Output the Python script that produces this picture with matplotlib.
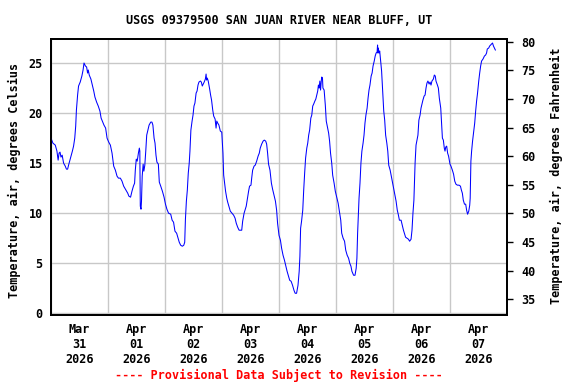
import matplotlib
matplotlib.use("Agg")
import matplotlib.pyplot as plt
import matplotlib.dates as mdates
from datetime import datetime, timedelta

# Hours since 2026-03-31 00:00 and air temperature (deg C)
hours = [
    0, 0.8, 1.8, 2.5, 3.0, 3.4, 3.8, 4.2, 4.7, 5.3, 6.0, 6.5, 7.0, 7.4, 8.1, 9.0, 9.5, 10.0,
    10.4, 10.7, 11.2, 11.6, 12.3, 13.0, 13.5, 13.9, 14.5, 15.0, 15.4, 15.7, 16.1, 16.8, 17.4,
    18.0, 18.5, 19.2, 19.9, 20.6, 21.1, 21.6, 22.3, 23.0, 23.6, 24.3, 25.0, 25.7, 26.4, 27.1,
    27.8, 28.4, 29.2, 29.9, 30.6, 31.6, 32.3, 32.8, 33.5, 34.1, 34.7, 35.2, 35.5, 35.9, 36.3,
    36.8, 37.2, 37.4, 37.6, 37.9, 38.1, 38.4, 38.8, 39.1, 39.5, 39.9, 40.3, 40.7, 41.3, 42.0,
    42.5, 42.9, 43.4, 43.8, 44.2, 44.6, 45.2, 45.6, 46.2, 46.9, 47.6, 48.2,
    48.8, 49.5, 50.4, 51.0, 51.6, 52.2, 52.9, 53.5, 54.0, 54.6, 55.3, 55.9, 56.3, 56.6, 57.0,
    57.4, 57.8, 58.2, 58.5, 58.9, 59.4, 59.8, 60.2, 60.6, 61.1, 61.5, 61.9, 62.3, 62.9, 63.3,
    63.7, 64.1, 64.5, 65.0, 65.3, 65.5, 65.8, 66.2, 66.8, 67.2, 67.6, 68.1, 68.5, 69.1, 69.5,
    69.8, 70.2, 70.7, 71.3, 71.9, 72.4, 72.7, 73.1, 73.5, 74.0, 74.4, 74.9, 75.5, 76.2, 76.9,
    77.5, 78.0, 78.6, 79.2, 79.7, 80.3, 80.7, 81.3, 81.7, 82.2, 82.8, 83.2, 83.6, 84.2, 84.5,
    84.9, 85.5, 86.0, 86.6, 87.2, 87.7, 88.1, 88.7, 89.3, 89.8, 90.4, 90.8, 91.2, 91.6, 92.2,
    92.8, 93.3, 93.9, 94.5, 95.0, 95.4,
    96.0, 96.6, 97.1, 97.7, 98.3, 98.8, 99.4, 100.0, 100.5, 101.1, 101.7, 102.3, 102.8, 103.4,
    104.0, 104.5, 104.8, 105.1, 105.5, 106.0, 106.4, 106.8, 107.2, 107.7, 108.1, 108.5, 108.9,
    109.4, 109.8, 110.2, 110.6, 111.1, 111.5, 111.9, 112.3, 112.6, 112.9, 113.2, 113.5, 113.8,
    114.0, 114.3, 114.5, 115.0, 115.5, 115.9, 116.5, 116.9, 117.3, 117.7, 118.2, 118.6, 119.2,
    119.7, 120.3, 120.9, 121.4, 122.0, 122.4, 123.0, 123.6, 124.1, 124.7, 125.3, 125.8, 126.3,
    126.7, 127.4, 128.0, 128.5, 128.8, 129.1, 129.4, 129.7, 130.1, 130.5, 130.9, 131.4, 131.8,
    132.2, 132.6, 133.1, 133.5, 133.9, 134.3, 134.8, 135.2, 135.6, 136.1, 136.5, 136.9, 137.3,
    137.5, 137.6, 137.8, 138.1, 138.4, 138.8, 139.2, 139.6, 140.1, 140.5, 140.9, 141.4, 141.8,
    142.2, 142.8, 143.2, 143.6,
    144.4, 144.8, 145.3, 145.8, 146.2, 146.7, 147.4, 147.9, 148.4, 148.8, 149.3, 149.9, 150.5,
    151.0, 151.6, 152.0, 152.4, 152.8, 153.3, 153.7, 154.1, 154.5, 154.9, 155.4, 155.8, 156.2,
    156.6, 157.1, 157.5, 157.9, 158.3, 158.7, 159.2, 159.6, 160.0, 160.4, 161.0, 161.4, 161.8,
    162.1, 162.7, 163.1, 163.5, 164.1, 164.5, 164.8, 165.2, 165.6, 165.9, 166.2, 166.6, 167.0,
    167.4, 168.0, 168.4, 169.0, 169.5, 170.0, 170.5, 171.1, 171.8, 172.4, 172.8, 173.2, 173.6,
    174.1, 174.6, 175.0, 175.4, 175.9, 176.3, 176.5, 176.8, 177.1, 177.5, 178.0, 178.4, 178.8,
    179.2, 179.6, 180.1, 180.5, 180.9, 181.3, 181.9, 182.5, 183.0, 183.4, 183.7, 184.3, 184.7,
    185.1, 185.5, 185.9, 186.3, 186.7, 187.1,
]
temps_c = [
    17.5, 17.0, 16.8, 16.2, 15.3, 16.0, 16.1, 15.6, 15.8, 15.0, 14.7, 14.4, 14.4, 14.8, 15.4, 16.2, 16.7, 17.5,
    18.7, 20.3, 21.8, 22.7, 23.1, 23.7, 24.3, 25.0, 24.7, 24.6, 24.0, 24.3, 23.8, 23.4, 22.8,
    22.2, 21.6, 21.1, 20.7, 20.2, 19.5, 19.2, 18.8, 18.5, 17.5, 17.1, 16.8, 16.0, 14.7, 14.3,
    13.7, 13.5, 13.5, 13.2, 12.7, 12.3, 12.0, 11.7, 11.6, 12.2, 12.7, 13.0, 14.3, 15.4, 15.2,
    16.0, 16.5, 16.2, 10.7, 10.4, 11.2, 13.7, 14.9, 14.2, 14.8, 16.2, 17.8, 18.2, 18.8, 19.1,
    19.1, 18.8, 17.5, 17.0, 15.8, 15.1, 14.9, 13.1, 12.7, 12.2, 11.6, 10.9,
    10.4, 10.0, 9.9, 9.3, 9.1, 8.2, 8.0, 7.5, 7.1, 6.8, 6.7, 6.8, 7.1, 9.4, 11.2,
    12.3, 14.0, 15.0, 16.2, 18.3, 19.2, 19.8, 20.7, 21.0, 22.0, 22.2, 22.8, 23.1, 23.2, 23.1,
    22.7, 22.9, 23.1, 23.4, 23.9, 23.3, 23.5, 23.2, 22.4, 21.8, 21.3, 20.3, 19.7, 19.4, 18.5,
    19.2, 19.0, 18.8, 18.2, 18.1, 16.0, 13.8, 13.0, 12.2, 11.5, 11.1, 10.7, 10.2, 10.0, 9.8,
    9.5, 9.0, 8.6, 8.3, 8.3, 8.3, 9.2, 10.0, 10.3, 10.7, 11.6, 12.2, 12.7, 12.8, 13.5,
    14.3, 14.7, 14.8, 15.2, 15.7, 16.0, 16.5, 16.9, 17.2, 17.3, 17.2, 16.9, 16.0, 14.9, 14.3,
    13.0, 12.4, 11.8, 11.2, 10.3, 9.0,
    7.8, 7.3, 6.5, 5.8, 5.3, 4.8, 4.2, 3.7, 3.3, 3.2, 2.8, 2.3, 2.0, 2.0,
    2.8, 4.2, 5.7, 8.5, 9.2, 10.3, 12.3, 14.0, 15.5, 16.5, 17.0, 17.8, 18.3,
    19.5, 19.8, 20.7, 20.9, 21.2, 21.4, 21.8, 22.2, 22.8, 22.5, 23.2, 22.3, 23.2,
    23.6, 23.5, 22.5, 22.3, 20.8, 19.2, 18.5, 18.0, 17.2, 16.0, 15.0, 13.8, 13.0,
    12.2, 11.6, 11.0, 10.2, 9.3, 8.0, 7.5, 7.2, 6.3, 5.8, 5.5, 5.0, 4.7,
    4.2, 3.8, 3.8, 4.5, 5.5, 8.0, 9.8, 11.5, 13.0, 15.0, 16.2, 17.0, 17.8,
    19.0, 19.8, 20.5, 21.5, 22.3, 22.8, 23.7, 24.0, 24.7, 25.2, 25.7, 26.0, 26.1,
    26.8, 26.0, 26.5, 26.0, 26.2, 25.2, 24.2, 22.5, 20.2, 19.3, 17.8, 17.0, 16.2,
    14.8, 14.3, 13.8, 13.3,
    12.3, 11.8, 11.2, 10.3, 9.9, 9.3, 9.3, 8.8, 8.3, 8.0, 7.6, 7.5, 7.4,
    7.2, 7.4, 8.3, 10.0, 11.3, 15.0, 16.8, 17.3, 17.8, 19.3, 19.8, 20.5, 20.9,
    21.3, 21.7, 21.8, 22.5, 23.0, 23.2, 22.9, 23.1, 22.8, 23.2, 23.4, 23.8, 23.7,
    23.2, 22.8, 22.5, 21.5, 20.5, 18.8, 17.5, 17.3, 16.5, 16.2, 16.6, 16.7, 16.0,
    15.7, 14.9, 14.7, 14.3, 13.9, 13.2, 12.9, 12.8, 12.8, 12.7, 12.3, 12.0, 11.3,
    10.9, 10.9, 10.3, 9.9, 10.2, 10.8, 11.5, 15.2, 16.2, 17.2, 18.2, 19.0, 20.2,
    21.2, 22.0, 23.2, 24.0, 24.7, 25.2, 25.4, 25.7, 25.8, 26.0, 26.4, 26.5, 26.7,
    26.8, 26.9, 27.0, 26.7, 26.5, 26.3,
]

day_labels = ["Mar\n31\n2026", "Apr\n01\n2026", "Apr\n02\n2026", "Apr\n03\n2026",
              "Apr\n04\n2026", "Apr\n05\n2026", "Apr\n06\n2026", "Apr\n07\n2026"]
c_ticks = [0, 5, 10, 15, 20, 25]
f_ticks = [35, 40, 45, 50, 55, 60, 65, 70, 75, 80]

title = "USGS 09379500 SAN JUAN RIVER NEAR BLUFF, UT"
footer = "---- Provisional Data Subject to Revision ----"

start = datetime(2026, 3, 31)
times = [start + timedelta(hours=h) for h in hours]

FONT = dict(family="DejaVu Sans Mono", weight="bold", size=8.5)

fig = plt.figure(figsize=(5.76, 3.84), dpi=100)
ax = fig.add_axes([51 / 576, 1 - 315 / 384, 456 / 576, 276 / 384])

ax.plot(times, temps_c, color="#0000ff", linewidth=0.75, zorder=3)

ax.set_xlim(start, start + timedelta(days=8))
ax.set_ylim(-0.17, 27.4)

# grid at midnights, labels at noon
ax.xaxis.set_major_locator(mdates.DayLocator())
ax.xaxis.set_major_formatter(plt.NullFormatter())
noon = [start + timedelta(days=i, hours=12) for i in range(len(day_labels))]
ax.set_xticks(noon, minor=True)
ax.set_xticklabels(day_labels, minor=True, fontdict=FONT, linespacing=1.2)
ax.tick_params(axis="x", which="both", length=0, pad=6)

ax.set_yticks(c_ticks)
ax.set_yticklabels([str(v) for v in c_ticks], fontdict=FONT)
ax.tick_params(axis="y", length=0, pad=6)

ax.grid(True, which="major", color="#c8c8c8", linewidth=1.0, zorder=0)
for s in ax.spines.values():
    s.set_linewidth(1.3)

ax2 = ax.twinx()
ax2.set_ylim(32.25, 80.5)
ax2.set_yticks(f_ticks)
ax2.set_yticklabels([str(v) for v in f_ticks], fontdict=FONT)
ax2.tick_params(axis="y", length=4, width=1, pad=6)
for s in ax2.spines.values():
    s.set_linewidth(1.3)

fig.text(279 / 576, 1 - 20 / 384, title, ha="center", va="center", **FONT)
fig.text(14 / 576, 1 - 180 / 384, "Temperature, air, degrees Celsius",
         rotation=90, ha="center", va="center", **FONT)
fig.text(556 / 576, 1 - 176 / 384, "Temperature, air, degrees Fahrenheit",
         rotation=90, ha="center", va="center", **FONT)
fig.text(279 / 576, 1 - 375 / 384, footer, ha="center", va="center",
         color="#ff0000", **FONT)

fig.savefig("out.png", dpi=100)
